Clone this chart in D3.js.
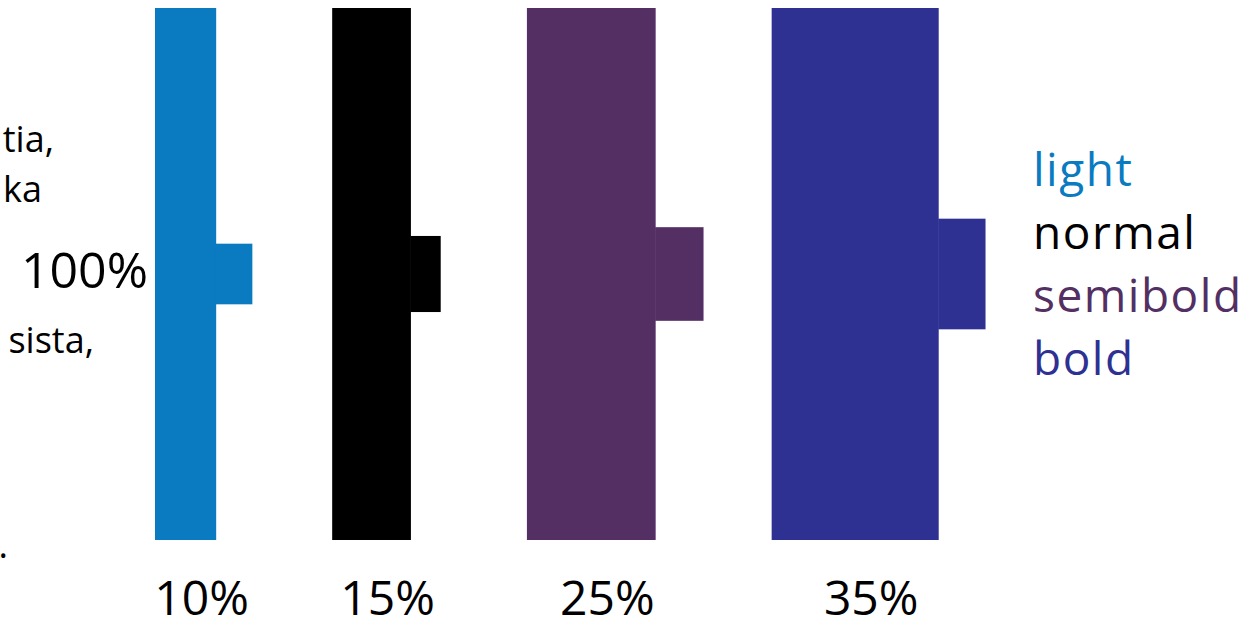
<!DOCTYPE html>
<html>
<head>
<meta charset="utf-8">
<script src="https://cdn.jsdelivr.net/npm/d3@7.9.0/dist/d3.min.js"></script>
<style>
  html, body { margin: 0; padding: 0; background: #fff; }
  svg { display: block; font-family: "Open Sans", "Noto Sans", sans-serif; }
</style>
</head>
<body>
<svg id="chart" width="1259" height="628"></svg>
<script>
// data: stem thickness as % of the 100% letter height
const weights = ["light", "normal", "semibold", "bold"];
const stemLabels = ["10%", "15%", "25%", "35%"];
const stemWidth = [11.5, 14.8, 24.2, 31.4];
const crossWidth = [6.8, 5.6, 9.0, 8.8];
const crossHeight = [11.4, 14.3, 17.6, 20.8];
const weightColors = ["#0a7bc1", "#000000", "#532f63", "#2e3192"];
// cut-off body text on the left edge
const sideLines = ["tia,", "ka", "sista,", "."];

const svg = d3.select("#chart");

// one unit = 1% of the full height, same in both directions
const y = d3.scaleLinear().domain([0, 100]).range([540, 8]);
const u = d3.scaleLinear().domain([0, 100]).range([0, 532]);
const color = d3.scaleOrdinal().domain(weights).range(weightColors);

// stems sit one after the other with a fixed gap
const gap = 116;
let left = 155;
const bars = weights.map((w, i) => {
  const b = {
    weight: w, label: stemLabels[i],
    x: left, stem: u(stemWidth[i]),
    cw: u(crossWidth[i]), ch: u(crossHeight[i])
  };
  left += b.stem + gap;
  return b;
});

const g = svg.selectAll("g.bar")
  .data(bars)
  .join("g")
  .attr("class", "bar")
  .attr("fill", d => color(d.weight));

g.append("rect")
  .attr("x", d => d.x)
  .attr("y", y(100))
  .attr("width", d => d.stem)
  .attr("height", y(0) - y(100));

g.append("rect")
  .attr("x", d => d.x + d.stem - 0.5)
  .attr("y", d => y(50) - d.ch / 2)
  .attr("width", d => d.cw + 0.5)
  .attr("height", d => d.ch);

// percentage labels under each stem
svg.selectAll("text.pct")
  .data(bars)
  .join("text")
  .attr("class", "pct")
  .attr("x", d => d.x + d.stem / 2 + 16)
  .attr("y", 615)
  .attr("text-anchor", "middle")
  .attr("font-size", 48)
  .text(d => d.label);

// full height marker
svg.append("text")
  .attr("x", 148)
  .attr("y", 288)
  .attr("text-anchor", "end")
  .attr("font-size", 50)
  .text("100%");

// legend
svg.selectAll("text.legend")
  .data(weights)
  .join("text")
  .attr("class", "legend")
  .attr("x", 1033)
  .attr("y", (d, i) => 186 + i * 63)
  .attr("font-size", 46)
  .attr("letter-spacing", 1.5)
  .attr("fill", d => color(d))
  .text(d => d);

// fragments of the paragraph beside the figure
const sidePos = [[54, 152], [42, 202], [94, 353], [8, 558]];
svg.selectAll("text.side")
  .data(sideLines)
  .join("text")
  .attr("class", "side")
  .attr("x", (d, i) => sidePos[i][0])
  .attr("y", (d, i) => sidePos[i][1])
  .attr("text-anchor", "end")
  .attr("font-size", 36)
  .text(d => d);
</script>
</body>
</html>
